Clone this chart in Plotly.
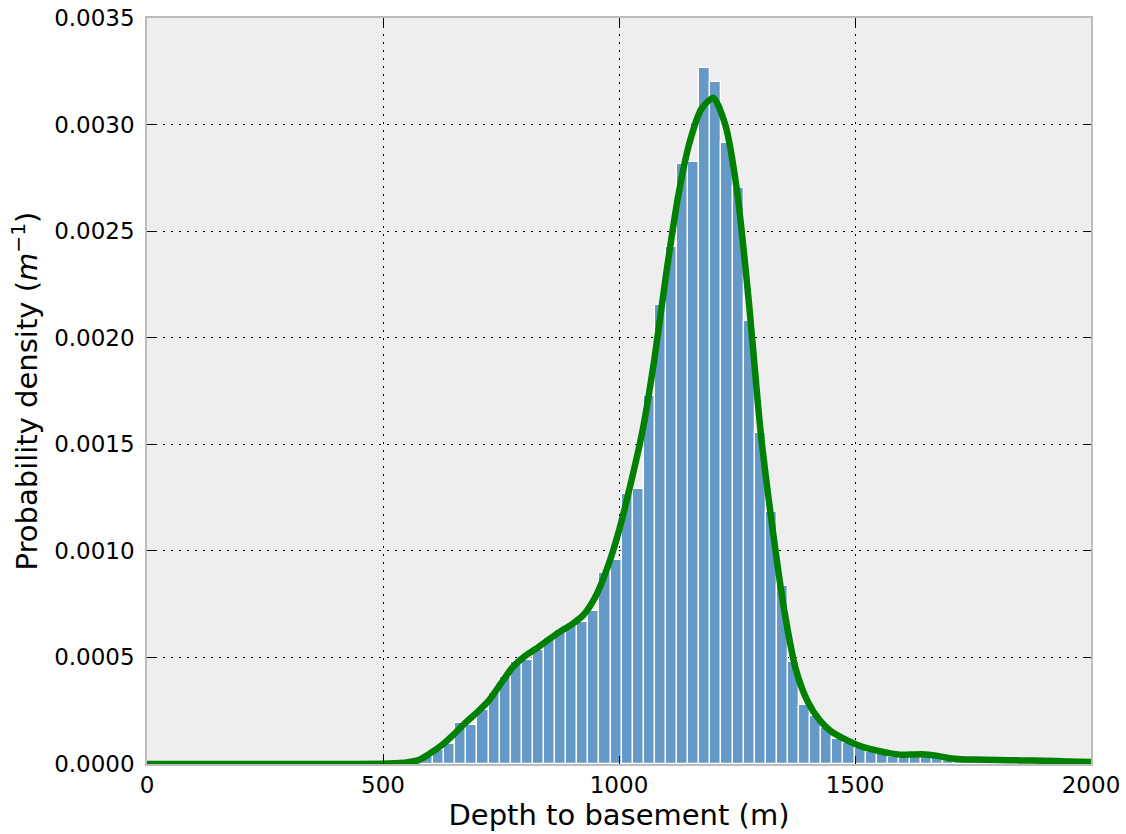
import plotly.graph_objects as go

# Histogram: bin left edges and densities
bin_start = 582.6
bin_width = 23.5
bar_density = [
    0.000034, 0.000066, 0.000092, 0.000191, 0.000183, 0.000253, 0.000335, 0.000410,
    0.000480, 0.000488, 0.000535, 0.000590, 0.000629, 0.000647, 0.000668, 0.000718,
    0.000895, 0.000957, 0.001267, 0.001290, 0.001727, 0.002153, 0.002424, 0.002815,
    0.002823, 0.003265, 0.003200, 0.002913, 0.002702, 0.002080, 0.001551, 0.001182,
    0.000837, 0.000480, 0.000277, 0.000225, 0.000167, 0.000119, 0.000100, 0.000074,
    0.000058, 0.000047, 0.000034, 0.000031, 0.000034, 0.000031, 0.000027, 0.000016,
    0.000012, 0.000010, 0.000008, 0.000010, 0.000006, 0.000008, 0.000004, 0.000006,
    0.000004, 0.000002, 0.000004, 0.000002,
]
bar_centers = [bin_start + bin_width * (i + 0.5) for i in range(len(bar_density))]

# KDE curve
kde_x = [0, 100, 200, 300, 400, 500, 525, 550, 575, 600, 625, 650, 675, 700, 725, 750, 775,
         800, 825, 850, 875, 900, 925, 950, 975, 1000, 1025, 1050, 1075, 1100, 1125,
         1150, 1175, 1200, 1225, 1250, 1275, 1300, 1325, 1350, 1375, 1400, 1425, 1450,
         1475, 1500, 1525, 1550, 1575, 1600, 1625, 1650, 1675, 1700, 1725, 1750, 1800,
         1850, 1900, 1950, 2000]
kde_y = [0.0, 0.0, 0.0, 0.0, 0.0, 0.000001, 0.000003, 0.000007, 0.000018, 0.000050,
         0.000089, 0.000139, 0.000194, 0.000244, 0.000300, 0.000378, 0.000455,
         0.000505, 0.000542, 0.000582, 0.000621, 0.000655, 0.000700, 0.000785,
         0.000918, 0.001095, 0.001317, 0.001565, 0.001900, 0.002300, 0.002660,
         0.002920, 0.003075, 0.003125, 0.003000, 0.002690, 0.002170, 0.001560,
         0.001110, 0.000723, 0.000441, 0.000292, 0.000206, 0.000152, 0.000120,
         0.000094, 0.000074, 0.000061, 0.000050, 0.000043, 0.000045, 0.000045,
         0.000038, 0.000027, 0.000022, 0.000021, 0.000019, 0.000017, 0.000015,
         0.000012, 0.000009]

x_ticks = [0, 500, 1000, 1500, 2000]
y_ticks = [0.0, 0.0005, 0.0010, 0.0015, 0.0020, 0.0025, 0.0030, 0.0035]

fig = go.Figure()
fig.add_trace(go.Bar(
    x=bar_centers, y=bar_density, width=[bin_width] * len(bar_density),
    marker=dict(color="#6599c8", line=dict(color="white", width=1.3)),
    showlegend=False,
))
fig.add_trace(go.Scatter(
    x=kde_x, y=kde_y, mode="lines",
    line=dict(color="#008000", width=6.5, shape="spline", smoothing=0.7),
    showlegend=False,
))

axis_common = dict(
    showgrid=True, gridcolor="black", gridwidth=1, griddash="2px,6px",
    showline=True, linecolor="#bcbcbc", linewidth=1.5, mirror="allticks",
    ticks="inside", ticklen=8, tickcolor="black", tickwidth=1,
    zeroline=False, automargin=False,
    tickfont=dict(family="DejaVu Sans", size=23, color="black"),
)
fig.update_xaxes(
    range=[0, 2000], tickvals=x_ticks, ticktext=[str(v) for v in x_ticks],
    title=dict(text="Depth to basement (m)", font=dict(family="DejaVu Sans", size=29, color="black"), standoff=6),
    **axis_common,
)
fig.update_yaxes(
    range=[0, 0.0035], tickvals=y_ticks, ticktext=[f"{v:.4f}" for v in y_ticks],
    title=dict(text="Probability density (<i>m</i><sup>\u22121</sup>)", font=dict(family="DejaVu Sans", size=29, color="black"), standoff=8),
    ticklabelstandoff=6,
    **axis_common,
)
fig.update_layout(
    width=1126, height=834,
    margin=dict(l=147, r=35, t=18, b=70),
    paper_bgcolor="white", plot_bgcolor="#eeeeee",
    bargap=0,
)
fig.write_html("out.html")
